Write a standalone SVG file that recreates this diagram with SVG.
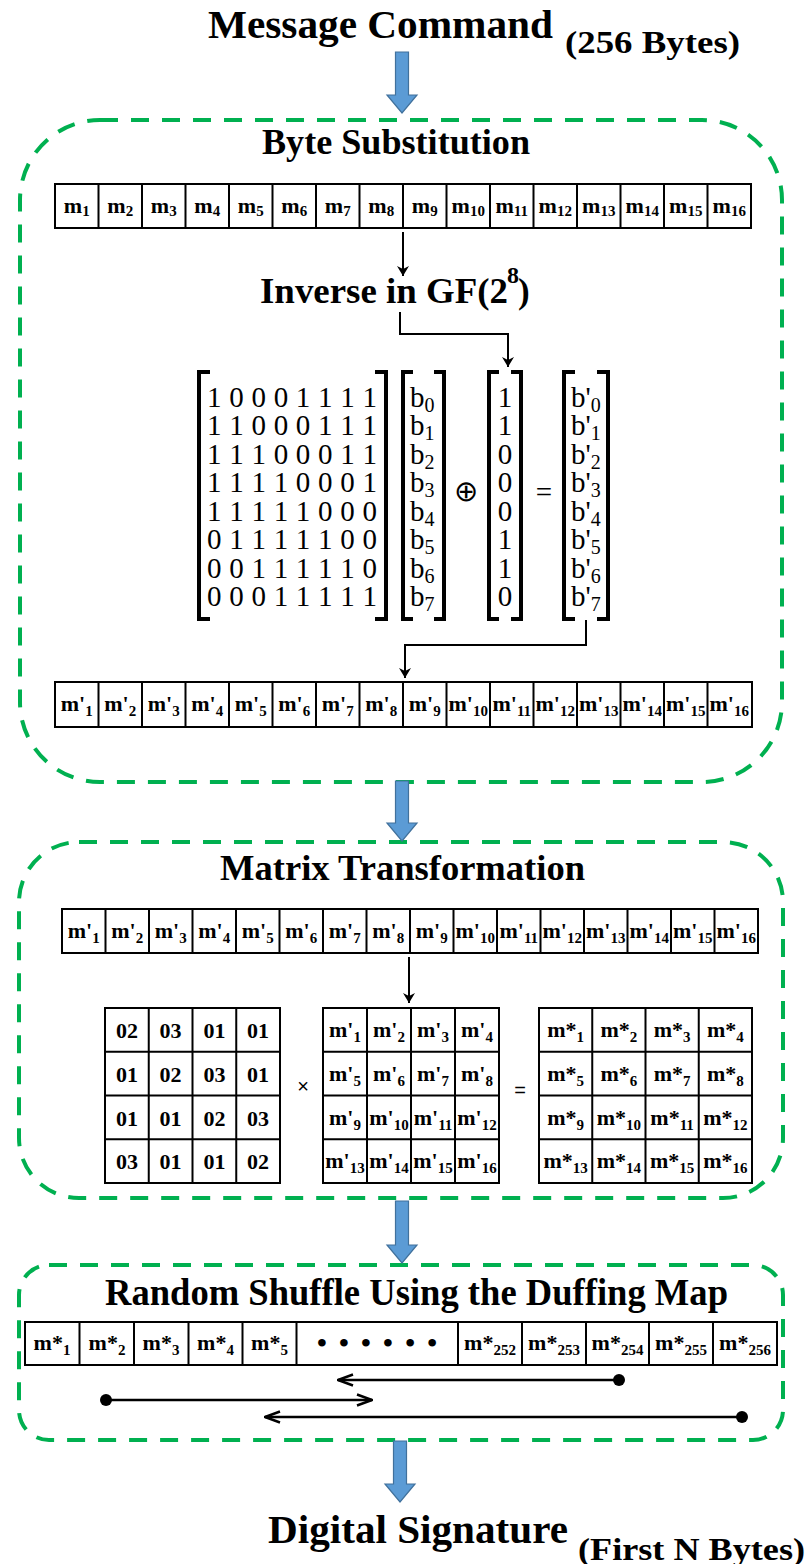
<svg xmlns="http://www.w3.org/2000/svg" width="810" height="1564" viewBox="0 0 810 1564">
  <style>
    .h { font-family: "Liberation Serif", "Times New Roman", serif; font-weight: bold; fill: #000; }
    .c { font-family: "Liberation Serif", "Times New Roman", serif; font-weight: bold; font-size: 22px; text-anchor: middle; fill: #000; }
    .s { font-size: 15px; }
    .r { font-family: "Liberation Serif", "Times New Roman", serif; font-size: 29px; fill: #000; }
    .rs { font-size: 20px; }
    .cell { fill: #fff; stroke: #000; stroke-width: 2; }
    .grid { fill: none; stroke: #000; stroke-width: 2; }
    .grp { fill: none; stroke: #00B050; stroke-width: 4; stroke-dasharray: 18 13; }
    .blue { fill: #5B9BD5; stroke: #41719C; stroke-width: 1.2; }
    .conn { fill: none; stroke: #000; stroke-width: 2; }
    .brk { fill: none; stroke: #000; stroke-width: 4; }
    .shuf { fill: none; stroke: #000; stroke-width: 2.5; }
  </style>
  <defs>
    <marker id="head" viewBox="0 0 10 12" refX="10" refY="6" markerWidth="10" markerHeight="12" markerUnits="userSpaceOnUse" orient="auto">
      <path d="M0,0 L10,6 L0,12 L3,6 Z" fill="#000"/>
    </marker>
    <marker id="open" viewBox="0 0 18 14" refX="17" refY="7" markerWidth="18" markerHeight="14" markerUnits="userSpaceOnUse" orient="auto">
      <path d="M2,1.5 L17,7 L2,12.5" fill="none" stroke="#000" stroke-width="2.5"/>
    </marker>
    <path id="row16" d="M43.5,0 v45 M87,0 v45 M130.5,0 v45 M174,0 v45 M217.5,0 v45 M261,0 v45 M304.5,0 v45 M348,0 v45 M391.5,0 v45 M435,0 v45 M478.5,0 v45 M522,0 v45 M565.5,0 v45 M609,0 v45 M652.5,0 v45"/>
  </defs>

  <!-- input and output labels -->
  <g id="message-command">
    <text class="h" x="208" y="38" font-size="41" textLength="345" lengthAdjust="spacingAndGlyphs">Message Command</text>
    <text class="h" x="565" y="53" font-size="32" textLength="175" lengthAdjust="spacingAndGlyphs">(256 Bytes)</text>
  </g>
  <g id="digital-signature">
    <text class="h" x="268" y="1543" font-size="40" textLength="300" lengthAdjust="spacingAndGlyphs">Digital Signature</text>
    <text class="h" x="578" y="1560" font-size="32" textLength="227" lengthAdjust="spacingAndGlyphs">(First N Bytes)</text>
  </g>

  <!-- stage 1: byte substitution -->
  <g id="byte-substitution">
    <rect class="grp" x="20" y="120" width="762" height="662" rx="80" ry="80"/>
    <text class="h" x="262" y="154" font-size="35" textLength="268" lengthAdjust="spacingAndGlyphs">Byte Substitution</text>
    <g id="row-m" transform="translate(55,184)">
      <rect class="cell" x="0" y="0" width="696" height="44"/>
      <use href="#row16" class="grid"/>
      <text class="c" x="21.75" y="29">m<tspan class="s" dy="3">1</tspan></text>
      <text class="c" x="65.25" y="29">m<tspan class="s" dy="3">2</tspan></text>
      <text class="c" x="108.75" y="29">m<tspan class="s" dy="3">3</tspan></text>
      <text class="c" x="152.25" y="29">m<tspan class="s" dy="3">4</tspan></text>
      <text class="c" x="195.75" y="29">m<tspan class="s" dy="3">5</tspan></text>
      <text class="c" x="239.25" y="29">m<tspan class="s" dy="3">6</tspan></text>
      <text class="c" x="282.75" y="29">m<tspan class="s" dy="3">7</tspan></text>
      <text class="c" x="326.25" y="29">m<tspan class="s" dy="3">8</tspan></text>
      <text class="c" x="369.75" y="29">m<tspan class="s" dy="3">9</tspan></text>
      <text class="c" x="413.25" y="29">m<tspan class="s" dy="3">10</tspan></text>
      <text class="c" x="456.75" y="29">m<tspan class="s" dy="3">11</tspan></text>
      <text class="c" x="500.25" y="29">m<tspan class="s" dy="3">12</tspan></text>
      <text class="c" x="543.75" y="29">m<tspan class="s" dy="3">13</tspan></text>
      <text class="c" x="587.25" y="29">m<tspan class="s" dy="3">14</tspan></text>
      <text class="c" x="630.75" y="29">m<tspan class="s" dy="3">15</tspan></text>
      <text class="c" x="674.25" y="29">m<tspan class="s" dy="3">16</tspan></text>
    </g>
    <g id="inverse-label">
      <text class="h" x="260" y="303" font-size="35" textLength="248" lengthAdjust="spacingAndGlyphs">Inverse in GF(2</text>
      <text class="h" x="507" y="283" font-size="24">8</text>
      <text class="h" x="518" y="303" font-size="35">)</text>
    </g>
    <g id="affine-equation">
      <!-- brackets -->
      <path class="brk" d="M210,372 H199 V619 H210 M375,372 H386 V619 H375"/>
      <path class="brk" d="M413,372 H403 V619 H413 M434,372 H444 V619 H434"/>
      <path class="brk" d="M499,372 H489 V619 H499 M511,372 H521 V619 H511"/>
      <path class="brk" d="M575,372 H564 V619 H575 M597,372 H608 V619 H597"/>
      <!-- matrix rows -->
      <text class="r" x="207" y="407" textLength="170" lengthAdjust="spacing">1 0 0 0 1 1 1 1</text>
      <text class="r" x="207" y="435.4" textLength="170" lengthAdjust="spacing">1 1 0 0 0 1 1 1</text>
      <text class="r" x="207" y="463.9" textLength="170" lengthAdjust="spacing">1 1 1 0 0 0 1 1</text>
      <text class="r" x="207" y="492.3" textLength="170" lengthAdjust="spacing">1 1 1 1 0 0 0 1</text>
      <text class="r" x="207" y="520.7" textLength="170" lengthAdjust="spacing">1 1 1 1 1 0 0 0</text>
      <text class="r" x="207" y="549.2" textLength="170" lengthAdjust="spacing">0 1 1 1 1 1 0 0</text>
      <text class="r" x="207" y="577.6" textLength="170" lengthAdjust="spacing">0 0 1 1 1 1 1 0</text>
      <text class="r" x="207" y="606" textLength="170" lengthAdjust="spacing">0 0 0 1 1 1 1 1</text>
      <!-- input bit vector -->
      <text class="r" x="410" y="407">b<tspan class="rs" dy="5">0</tspan></text>
      <text class="r" x="410" y="435.4">b<tspan class="rs" dy="5">1</tspan></text>
      <text class="r" x="410" y="463.9">b<tspan class="rs" dy="5">2</tspan></text>
      <text class="r" x="410" y="492.3">b<tspan class="rs" dy="5">3</tspan></text>
      <text class="r" x="410" y="520.7">b<tspan class="rs" dy="5">4</tspan></text>
      <text class="r" x="410" y="549.2">b<tspan class="rs" dy="5">5</tspan></text>
      <text class="r" x="410" y="577.6">b<tspan class="rs" dy="5">6</tspan></text>
      <text class="r" x="410" y="606">b<tspan class="rs" dy="5">7</tspan></text>
      <text class="r" x="466" y="501" text-anchor="middle" font-family="DejaVu Serif, serif" font-size="30">⊕</text>
      <!-- constant vector -->
      <text class="r" x="505" y="407" text-anchor="middle">1</text>
      <text class="r" x="505" y="435.4" text-anchor="middle">1</text>
      <text class="r" x="505" y="463.9" text-anchor="middle">0</text>
      <text class="r" x="505" y="492.3" text-anchor="middle">0</text>
      <text class="r" x="505" y="520.7" text-anchor="middle">0</text>
      <text class="r" x="505" y="549.2" text-anchor="middle">1</text>
      <text class="r" x="505" y="577.6" text-anchor="middle">1</text>
      <text class="r" x="505" y="606" text-anchor="middle">0</text>
      <text class="r" x="544" y="502" text-anchor="middle" font-size="34">=</text>
      <!-- output bit vector -->
      <text class="r" x="571" y="407">b'<tspan class="rs" dy="5">0</tspan></text>
      <text class="r" x="571" y="435.4">b'<tspan class="rs" dy="5">1</tspan></text>
      <text class="r" x="571" y="463.9">b'<tspan class="rs" dy="5">2</tspan></text>
      <text class="r" x="571" y="492.3">b'<tspan class="rs" dy="5">3</tspan></text>
      <text class="r" x="571" y="520.7">b'<tspan class="rs" dy="5">4</tspan></text>
      <text class="r" x="571" y="549.2">b'<tspan class="rs" dy="5">5</tspan></text>
      <text class="r" x="571" y="577.6">b'<tspan class="rs" dy="5">6</tspan></text>
      <text class="r" x="571" y="606">b'<tspan class="rs" dy="5">7</tspan></text>
    </g>
    <g id="row-m-prime" transform="translate(55,682)">
      <rect class="cell" x="0" y="0" width="697" height="45"/>
      <use href="#row16" class="grid"/>
      <text class="c" x="21.75" y="29">m'<tspan class="s" dy="5">1</tspan></text>
      <text class="c" x="65.25" y="29">m'<tspan class="s" dy="5">2</tspan></text>
      <text class="c" x="108.75" y="29">m'<tspan class="s" dy="5">3</tspan></text>
      <text class="c" x="152.25" y="29">m'<tspan class="s" dy="5">4</tspan></text>
      <text class="c" x="195.75" y="29">m'<tspan class="s" dy="5">5</tspan></text>
      <text class="c" x="239.25" y="29">m'<tspan class="s" dy="5">6</tspan></text>
      <text class="c" x="282.75" y="29">m'<tspan class="s" dy="5">7</tspan></text>
      <text class="c" x="326.25" y="29">m'<tspan class="s" dy="5">8</tspan></text>
      <text class="c" x="369.75" y="29">m'<tspan class="s" dy="5">9</tspan></text>
      <text class="c" x="413.25" y="29">m'<tspan class="s" dy="5">10</tspan></text>
      <text class="c" x="456.75" y="29">m'<tspan class="s" dy="5">11</tspan></text>
      <text class="c" x="500.25" y="29">m'<tspan class="s" dy="5">12</tspan></text>
      <text class="c" x="543.75" y="29">m'<tspan class="s" dy="5">13</tspan></text>
      <text class="c" x="587.25" y="29">m'<tspan class="s" dy="5">14</tspan></text>
      <text class="c" x="630.75" y="29">m'<tspan class="s" dy="5">15</tspan></text>
      <text class="c" x="674.25" y="29">m'<tspan class="s" dy="5">16</tspan></text>
    </g>
  </g>

  <!-- stage 2: matrix transformation -->
  <g id="matrix-transformation">
    <rect class="grp" x="19" y="842" width="764" height="356" rx="60" ry="60"/>
    <text class="h" x="220" y="880" font-size="36" textLength="365" lengthAdjust="spacingAndGlyphs">Matrix Transformation</text>
    <g id="row-m-prime-2" transform="translate(62,909)">
      <rect class="cell" x="0" y="0" width="696" height="44"/>
      <use href="#row16" class="grid"/>
      <text class="c" x="21.75" y="29">m'<tspan class="s" dy="5">1</tspan></text>
      <text class="c" x="65.25" y="29">m'<tspan class="s" dy="5">2</tspan></text>
      <text class="c" x="108.75" y="29">m'<tspan class="s" dy="5">3</tspan></text>
      <text class="c" x="152.25" y="29">m'<tspan class="s" dy="5">4</tspan></text>
      <text class="c" x="195.75" y="29">m'<tspan class="s" dy="5">5</tspan></text>
      <text class="c" x="239.25" y="29">m'<tspan class="s" dy="5">6</tspan></text>
      <text class="c" x="282.75" y="29">m'<tspan class="s" dy="5">7</tspan></text>
      <text class="c" x="326.25" y="29">m'<tspan class="s" dy="5">8</tspan></text>
      <text class="c" x="369.75" y="29">m'<tspan class="s" dy="5">9</tspan></text>
      <text class="c" x="413.25" y="29">m'<tspan class="s" dy="5">10</tspan></text>
      <text class="c" x="456.75" y="29">m'<tspan class="s" dy="5">11</tspan></text>
      <text class="c" x="500.25" y="29">m'<tspan class="s" dy="5">12</tspan></text>
      <text class="c" x="543.75" y="29">m'<tspan class="s" dy="5">13</tspan></text>
      <text class="c" x="587.25" y="29">m'<tspan class="s" dy="5">14</tspan></text>
      <text class="c" x="630.75" y="29">m'<tspan class="s" dy="5">15</tspan></text>
      <text class="c" x="674.25" y="29">m'<tspan class="s" dy="5">16</tspan></text>
    </g>
    <g id="mix-matrix">
      <rect class="cell" x="105" y="1008" width="175" height="175"/>
      <path class="grid" d="M148.75,1008 V1183 M192.5,1008 V1183 M236.25,1008 V1183 M105,1051.75 H280 M105,1095.5 H280 M105,1139.25 H280"/>
      <text class="c" x="126.9" y="1038">02</text><text class="c" x="170.6" y="1038">03</text><text class="c" x="214.4" y="1038">01</text><text class="c" x="258.1" y="1038">01</text>
      <text class="c" x="126.9" y="1082">01</text><text class="c" x="170.6" y="1082">02</text><text class="c" x="214.4" y="1082">03</text><text class="c" x="258.1" y="1082">01</text>
      <text class="c" x="126.9" y="1126">01</text><text class="c" x="170.6" y="1126">01</text><text class="c" x="214.4" y="1126">02</text><text class="c" x="258.1" y="1126">03</text>
      <text class="c" x="126.9" y="1169">03</text><text class="c" x="170.6" y="1169">01</text><text class="c" x="214.4" y="1169">01</text><text class="c" x="258.1" y="1169">02</text>
    </g>
    <text x="303" y="1093" text-anchor="middle" font-family="Liberation Sans, Arial, sans-serif" font-size="20">×</text>
    <g id="state-matrix">
      <rect class="cell" x="323" y="1008" width="176" height="175"/>
      <path class="grid" d="M367,1008 V1183 M411,1008 V1183 M455,1008 V1183 M323,1051.75 H499 M323,1095.5 H499 M323,1139.25 H499"/>
      <text class="c" x="345" y="1037">m'<tspan class="s" dy="5">1</tspan></text><text class="c" x="389" y="1037">m'<tspan class="s" dy="5">2</tspan></text><text class="c" x="433" y="1037">m'<tspan class="s" dy="5">3</tspan></text><text class="c" x="477" y="1037">m'<tspan class="s" dy="5">4</tspan></text>
      <text class="c" x="345" y="1081">m'<tspan class="s" dy="5">5</tspan></text><text class="c" x="389" y="1081">m'<tspan class="s" dy="5">6</tspan></text><text class="c" x="433" y="1081">m'<tspan class="s" dy="5">7</tspan></text><text class="c" x="477" y="1081">m'<tspan class="s" dy="5">8</tspan></text>
      <text class="c" x="345" y="1125">m'<tspan class="s" dy="5">9</tspan></text><text class="c" x="389" y="1125">m'<tspan class="s" dy="5">10</tspan></text><text class="c" x="433" y="1125">m'<tspan class="s" dy="5">11</tspan></text><text class="c" x="477" y="1125">m'<tspan class="s" dy="5">12</tspan></text>
      <text class="c" x="345" y="1168">m'<tspan class="s" dy="5">13</tspan></text><text class="c" x="389" y="1168">m'<tspan class="s" dy="5">14</tspan></text><text class="c" x="433" y="1168">m'<tspan class="s" dy="5">15</tspan></text><text class="c" x="477" y="1168">m'<tspan class="s" dy="5">16</tspan></text>
    </g>
    <text x="520" y="1097" text-anchor="middle" font-family="Liberation Sans, Arial, sans-serif" font-size="20">=</text>
    <g id="result-matrix">
      <rect class="cell" x="539" y="1008" width="213" height="175"/>
      <path class="grid" d="M592.25,1008 V1183 M645.5,1008 V1183 M698.75,1008 V1183 M539,1051.75 H752 M539,1095.5 H752 M539,1139.25 H752"/>
      <text class="c" x="565.6" y="1037">m*<tspan class="s" dy="5">1</tspan></text><text class="c" x="618.9" y="1037">m*<tspan class="s" dy="5">2</tspan></text><text class="c" x="672.1" y="1037">m*<tspan class="s" dy="5">3</tspan></text><text class="c" x="725.4" y="1037">m*<tspan class="s" dy="5">4</tspan></text>
      <text class="c" x="565.6" y="1081">m*<tspan class="s" dy="5">5</tspan></text><text class="c" x="618.9" y="1081">m*<tspan class="s" dy="5">6</tspan></text><text class="c" x="672.1" y="1081">m*<tspan class="s" dy="5">7</tspan></text><text class="c" x="725.4" y="1081">m*<tspan class="s" dy="5">8</tspan></text>
      <text class="c" x="565.6" y="1125">m*<tspan class="s" dy="5">9</tspan></text><text class="c" x="618.9" y="1125">m*<tspan class="s" dy="5">10</tspan></text><text class="c" x="672.1" y="1125">m*<tspan class="s" dy="5">11</tspan></text><text class="c" x="725.4" y="1125">m*<tspan class="s" dy="5">12</tspan></text>
      <text class="c" x="565.6" y="1168">m*<tspan class="s" dy="5">13</tspan></text><text class="c" x="618.9" y="1168">m*<tspan class="s" dy="5">14</tspan></text><text class="c" x="672.1" y="1168">m*<tspan class="s" dy="5">15</tspan></text><text class="c" x="725.4" y="1168">m*<tspan class="s" dy="5">16</tspan></text>
    </g>
  </g>

  <!-- stage 3: random shuffle -->
  <g id="random-shuffle">
    <rect class="grp" x="19" y="1265" width="764" height="175" rx="30" ry="30"/>
    <text class="h" x="105" y="1305" font-size="37" textLength="623" lengthAdjust="spacingAndGlyphs">Random Shuffle Using the Duffing Map</text>
    <g id="row-m-star">
      <rect class="cell" x="25" y="1322" width="752" height="43"/>
      <path class="grid" d="M79.5,1322 v43 M134,1322 v43 M188.5,1322 v43 M242.5,1322 v43 M296.5,1322 v43 M458,1322 v43 M522,1322 v43 M586,1322 v43 M649,1322 v43 M713,1322 v43"/>
      <text class="c" x="52" y="1350">m*<tspan class="s" dy="5">1</tspan></text>
      <text class="c" x="107" y="1350">m*<tspan class="s" dy="5">2</tspan></text>
      <text class="c" x="161" y="1350">m*<tspan class="s" dy="5">3</tspan></text>
      <text class="c" x="215.5" y="1350">m*<tspan class="s" dy="5">4</tspan></text>
      <text class="c" x="269.5" y="1350">m*<tspan class="s" dy="5">5</tspan></text>
      <text class="h" x="377" y="1352" font-size="28" text-anchor="middle" textLength="120" lengthAdjust="spacing">• • • • • •</text>
      <text class="c" x="490" y="1350">m*<tspan class="s" dy="5">252</tspan></text>
      <text class="c" x="554" y="1350">m*<tspan class="s" dy="5">253</tspan></text>
      <text class="c" x="617.5" y="1350">m*<tspan class="s" dy="5">254</tspan></text>
      <text class="c" x="681" y="1350">m*<tspan class="s" dy="5">255</tspan></text>
      <text class="c" x="745" y="1350">m*<tspan class="s" dy="5">256</tspan></text>
    </g>
  </g>

  <!-- connectors -->
  <g id="connectors">
    <path class="blue" d="M395.5,52 H408.5 V95 H417 L402,113 L387,95 H395.5 Z"/>
    <path class="blue" d="M395.5,781 H408.5 V823 H417 L402,841 L387,823 H395.5 Z"/>
    <path class="blue" d="M395.5,1201 H408.5 V1245 H417 L402,1263 L387,1245 H395.5 Z"/>
    <path class="blue" d="M393.5,1441 H406.5 V1484 H415 L400,1502 L385,1484 H393.5 Z"/>
    <path class="conn" d="M403,232 V276" marker-end="url(#head)"/>
    <path class="conn" d="M400,312 V334 H508 V367" marker-end="url(#head)"/>
    <path class="conn" d="M586,620 V645 H405 V678" marker-end="url(#head)"/>
    <path class="conn" d="M409,957 V1003" marker-end="url(#head)"/>
    <path class="shuf" d="M619,1380 H338" marker-end="url(#open)"/>
    <circle cx="619" cy="1380" r="6"/>
    <path class="shuf" d="M106,1400 H372" marker-end="url(#open)"/>
    <circle cx="106" cy="1400" r="6"/>
    <path class="shuf" d="M742,1417 H265" marker-end="url(#open)"/>
    <circle cx="742" cy="1417" r="6"/>
  </g>
</svg>
